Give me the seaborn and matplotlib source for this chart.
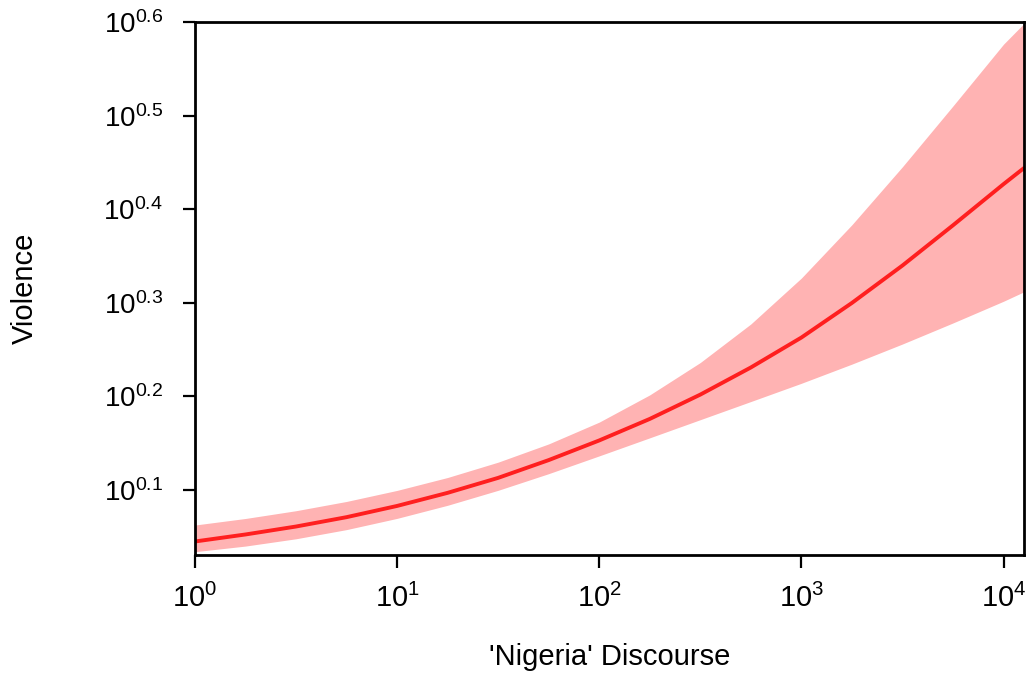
import numpy as np
import pandas as pd
import matplotlib
matplotlib.use("Agg")
import matplotlib.pyplot as plt
import seaborn as sns

# Values (log10 of the plotted quantities)
discourse_log10 = [0.0, 0.25, 0.5, 0.75, 1.0, 1.25, 1.5, 1.75, 2.0, 2.25,
                   2.5, 2.75, 3.0, 3.25, 3.5, 3.75, 4.0, 4.1]
violence_log10 = [0.045, 0.0525, 0.061, 0.071, 0.083, 0.097, 0.113, 0.132, 0.153,
                  0.176, 0.202, 0.231, 0.263, 0.300, 0.340, 0.383, 0.427, 0.444]
upper_log10 = [0.0626, 0.0696, 0.0779, 0.0878, 0.0996, 0.1134, 0.1298, 0.1493, 0.1726,
               0.2017, 0.2363, 0.2775, 0.3266, 0.3836, 0.4456, 0.5106, 0.5766, 0.5985]
lower_log10 = [0.0341, 0.0401, 0.0479, 0.0577, 0.0697, 0.0837, 0.0997, 0.1175, 0.1365,
               0.1558, 0.1752, 0.1946, 0.2141, 0.2346, 0.2561, 0.2786, 0.3018, 0.3118]
x_tick_exp = [0, 1, 2, 3, 4]
y_tick_exp = [0.1, 0.2, 0.3, 0.4, 0.5, 0.6]

df = pd.DataFrame({
    "x": np.power(10.0, discourse_log10),
    "y": np.power(10.0, violence_log10),
    "lo": np.power(10.0, lower_log10),
    "hi": np.power(10.0, upper_log10),
})

sns.set_style("ticks")
plt.rcParams["font.family"] = ["Liberation Sans", "DejaVu Sans"]
plt.rcParams["mathtext.fontset"] = "custom"
plt.rcParams["mathtext.rm"] = "Liberation Sans"
plt.rcParams["mathtext.it"] = "Liberation Sans"
plt.rcParams["text.color"] = "black"
plt.rcParams["axes.labelcolor"] = "black"

fig = plt.figure(figsize=(10.31, 6.74), dpi=100)
ax = fig.add_axes([0.189, 0.1766, 0.804, 0.7904])

ax.fill_between(df["x"], df["lo"], df["hi"], color="#FFB3B3", linewidth=0, zorder=1)
sns.lineplot(data=df, x="x", y="y", color="#FF1F1F", linewidth=2.8, ax=ax, zorder=2)

ax.set_xscale("log")
ax.set_yscale("log")
ax.set_xlim(1, 10 ** 4.1)
ax.set_ylim(10 ** 0.0306, 10 ** 0.6)

ax.set_xticks([10.0 ** e for e in x_tick_exp])
ax.set_xticklabels([r"$\mathregular{10^{%d}}$" % e for e in x_tick_exp])
ax.set_yticks([10.0 ** e for e in y_tick_exp])
ax.set_yticklabels([r"$\mathregular{10^{%.1f}}$" % e for e in y_tick_exp])
ax.minorticks_off()

for s in ax.spines.values():
    s.set_linewidth(2.0)
    s.set_color("black")
    s.set_visible(True)
ax.tick_params(axis="both", which="major", length=9, width=1.6,
               direction="out", color="black", labelcolor="black")
ax.tick_params(axis="x", labelsize=21, pad=12)
ax.tick_params(axis="y", labelsize=20, pad=14)

ax.set_xlabel("'Nigeria' Discourse", fontsize=21, labelpad=21)
ax.set_ylabel("Violence", fontsize=21, labelpad=46)

fig.savefig("out.png", dpi=100)
